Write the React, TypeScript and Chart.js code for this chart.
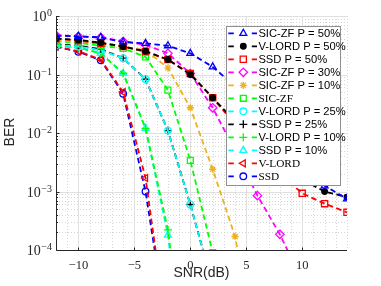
import React, { useEffect, useRef } from 'react';
import { Chart, registerables } from 'chart.js';
import { drawPoint } from 'chart.js/helpers';

Chart.register(...registerables);

// ---------- data ----------
const snr = [-12, -10, -8, -6, -4, -2, 0, 2, 4, 6, 8, 10, 12, 14];

const sicZf50 = [0.46, 0.45, 0.43, 0.36, 0.34, 0.31, 0.23, 0.135, 0.063, 0.022, 0.008, 0.0028, 0.00125, 0.00075];
const vLord50 = [0.41, 0.39, 0.35, 0.3, 0.25, 0.18, 0.1, 0.04, 0.016, 0.0063, 0.0028, 0.0016, 0.001, 0.0008];
const ssd50 = [0.41, 0.38, 0.34, 0.3, 0.245, 0.18, 0.104, 0.04, 0.014, 0.005, 0.002, 0.00093, 0.00062, 0.00044];
const sicZf30 = [0.47, 0.45, 0.43, 0.37, 0.32, 0.23, 0.104, 0.027, 0.005, 0.00085, 0.000185, 0.00003, 0.000005, 0.000001];
const sicZf10 = [0.38, 0.37, 0.34, 0.3, 0.26, 0.13, 0.027, 0.0024, 0.00017, 0.0000016, null, null, null, null];
const sicZf = [0.37, 0.35, 0.31, 0.28, 0.2, 0.054, 0.0034, 0.00009, null, null, null, null, null, null];
const vLord25 = [0.32, 0.3, 0.26, 0.19, 0.083, 0.011, 0.0006, 0.000025, null, null, null, null, null, null];
const ssd25 = [0.33, 0.31, 0.27, 0.19, 0.083, 0.011, 0.0006, 0.000025, null, null, null, null, null, null];
const vLord10 = [0.31, 0.29, 0.23, 0.105, 0.012, 0.00022, 0.0000002, null, null, null, null, null, null, null];
const ssd10 = [0.31, 0.29, 0.23, 0.105, 0.012, 0.00018, 0.00000015, null, null, null, null, null, null, null];
const vLord = [0.3, 0.25, 0.18, 0.05, 0.0017, 0.000003, null, null, null, null, null, null, null, null];
const ssd = [0.3, 0.245, 0.175, 0.047, 0.001, 0.0000035, null, null, null, null, null, null, null, null];

const seriesLabels = [
  'SIC-ZF P = 50%', 'V-LORD P = 50%', 'SSD P = 50%', 'SIC-ZF P = 30%', 'SIC-ZF P = 10%', 'SIC-ZF',
  'V-LORD P = 25%', 'SSD P = 25%', 'V-LORD P = 10%', 'SSD P = 10%', 'V-LORD', 'SSD',
];
const seriesValues = [sicZf50, vLord50, ssd50, sicZf30, sicZf10, sicZf, vLord25, ssd25, vLord10, ssd10, vLord, ssd];

const xTicks = [-10, -5, 0, 5, 10];
const xTickLabels = ['\u221210', '\u22125', '0', '5', '10'];
const yTicks = [1e-4, 1e-3, 1e-2, 1e-1, 1];
const yTickExponents = ['\u22124', '\u22123', '\u22122', '\u22121', '0'];
const xTitle = 'SNR(dB)';
const yTitle = 'BER';

// ---------- styles ----------
const seriesStyles = [
  { color: '#0000ff', pointStyle: 'triangle', radius: 4, rotation: 0, filled: false, serif: false },
  { color: '#000000', pointStyle: 'circle', radius: 2.8, rotation: 0, filled: true, serif: false },
  { color: '#ff0000', pointStyle: 'rect', radius: 4.4, rotation: 0, filled: false, serif: false },
  { color: '#ff00ff', pointStyle: 'rectRot', radius: 4.2, rotation: 0, filled: false, serif: false },
  { color: '#edb120', pointStyle: 'star', radius: 3.6, rotation: 0, filled: false, serif: false },
  { color: '#00ff00', pointStyle: 'rect', radius: 4.2, rotation: 0, filled: false, serif: true },
  { color: '#00ffff', pointStyle: 'circle', radius: 3.3, rotation: 0, filled: false, serif: false },
  { color: '#000000', pointStyle: 'cross', radius: 4, rotation: 0, filled: false, serif: false },
  { color: '#00ff00', pointStyle: 'cross', radius: 4, rotation: 0, filled: false, serif: false },
  { color: '#00ffff', pointStyle: 'triangle', radius: 4, rotation: 0, filled: false, serif: false },
  { color: '#ff0000', pointStyle: 'triangle', radius: 4, rotation: -90, filled: false, serif: true },
  { color: '#0000ff', pointStyle: 'circle', radius: 3.3, rotation: 0, filled: false, serif: true },
];

const SERIF = '"Liberation Serif", "DejaVu Serif", serif';
const SANS = '"Liberation Sans", Arial, sans-serif';
const AXIS_COLOR = '#262626';
const DASH = [5.5, 3.5];

const decorPlugin = {
  id: 'decor',
  beforeDatasetsDraw(chart: any) {
    const { ctx, chartArea: a, scales } = chart;
    const x = scales.x;
    const y = scales.y;
    ctx.save();
    // minor grid
    ctx.lineWidth = 1;
    ctx.strokeStyle = '#d6d6d6';
    ctx.setLineDash([1, 2]);
    for (let k = -4; k <= -1; k++) {
      for (let m = 2; m <= 9; m++) {
        const py = Math.round(y.getPixelForValue(m * Math.pow(10, k))) + 0.5;
        ctx.beginPath();
        ctx.moveTo(a.left, py);
        ctx.lineTo(a.right, py);
        ctx.stroke();
      }
    }
    for (let v = Math.ceil(x.min); v <= x.max; v++) {
      if (v % 5 === 0) continue;
      const px = Math.round(x.getPixelForValue(v)) + 0.5;
      ctx.beginPath();
      ctx.moveTo(px, a.top);
      ctx.lineTo(px, a.bottom);
      ctx.stroke();
    }
    // major grid
    ctx.setLineDash([]);
    ctx.strokeStyle = '#e0e0e0';
    yTicks.forEach((t) => {
      const py = Math.round(y.getPixelForValue(t)) + 0.5;
      ctx.beginPath();
      ctx.moveTo(a.left, py);
      ctx.lineTo(a.right, py);
      ctx.stroke();
    });
    xTicks.forEach((t) => {
      const px = Math.round(x.getPixelForValue(t)) + 0.5;
      ctx.beginPath();
      ctx.moveTo(px, a.top);
      ctx.lineTo(px, a.bottom);
      ctx.stroke();
    });
    ctx.restore();
  },
  afterDatasetsDraw(chart: any) {
    const { ctx, chartArea: a, scales } = chart;
    const x = scales.x;
    const y = scales.y;
    ctx.save();
    ctx.setLineDash([]);
    // axes
    ctx.strokeStyle = AXIS_COLOR;
    ctx.lineWidth = 1;
    const L = Math.round(a.left) + 0.5;
    const B = Math.round(a.bottom) + 0.5;
    ctx.beginPath();
    ctx.moveTo(L, a.top);
    ctx.lineTo(L, B);
    ctx.lineTo(a.right, B);
    ctx.stroke();
    // ticks
    ctx.beginPath();
    xTicks.forEach((t) => {
      const px = Math.round(x.getPixelForValue(t)) + 0.5;
      ctx.moveTo(px, B);
      ctx.lineTo(px, B - 3);
    });
    yTicks.forEach((t) => {
      const py = Math.round(y.getPixelForValue(t)) + 0.5;
      ctx.moveTo(L, py);
      ctx.lineTo(L + 3, py);
    });
    for (let k = -4; k <= -1; k++) {
      for (let m = 2; m <= 9; m++) {
        const py = Math.round(y.getPixelForValue(m * Math.pow(10, k))) + 0.5;
        ctx.moveTo(L, py);
        ctx.lineTo(L + 1.5, py);
      }
    }
    ctx.stroke();
    // x tick labels
    ctx.fillStyle = AXIS_COLOR;
    ctx.font = `12.5px ${SERIF}`;
    ctx.textAlign = 'center';
    ctx.textBaseline = 'alphabetic';
    xTicks.forEach((t, i) => {
      ctx.fillText(xTickLabels[i], x.getPixelForValue(t), a.bottom + 18.6);
    });
    // y tick labels
    yTicks.forEach((t, i) => {
      const py = y.getPixelForValue(t);
      const right = a.left - 4;
      ctx.font = `10px ${SERIF}`;
      ctx.textAlign = 'right';
      const ew = ctx.measureText(yTickExponents[i]).width;
      ctx.fillText(yTickExponents[i], right, py + 0.3);
      ctx.font = `14px ${SERIF}`;
      ctx.fillText('10', right - ew - 0.5, py + 5);
    });
    // titles
    ctx.font = `14px ${SANS}`;
    ctx.textAlign = 'center';
    ctx.fillText(xTitle, (a.left + a.right) / 2, 276.5);
    ctx.save();
    ctx.translate(13.5, (a.top + a.bottom) / 2 - 1);
    ctx.rotate(-Math.PI / 2);
    ctx.textBaseline = 'alphabetic';
    ctx.fillText(yTitle, 0, 0);
    ctx.restore();

    // legend
    const lx = 226.5, ly = 26.5, lw = 114, lh = 159;
    ctx.fillStyle = '#ffffff';
    ctx.fillRect(lx, ly, lw, lh);
    ctx.strokeStyle = '#8f8f8f';
    ctx.lineWidth = 1;
    ctx.strokeRect(lx, ly, lw, lh);
    seriesLabels.forEach((label, i) => {
      const st = seriesStyles[i];
      const cy = 33.3 + 13 * i;
      ctx.strokeStyle = st.color;
      ctx.lineWidth = 1.8;
      ctx.beginPath();
      ctx.moveTo(228.3, cy);
      ctx.lineTo(233.8, cy);
      ctx.moveTo(251.8, cy);
      ctx.lineTo(257, cy);
      ctx.stroke();
      ctx.lineWidth = 1.3;
      ctx.fillStyle = st.filled ? st.color : 'rgba(0,0,0,0)';
      drawPoint(ctx, { pointStyle: st.pointStyle, rotation: st.rotation, radius: st.radius, borderWidth: 1.3 } as any, 243.3, cy);
      ctx.fillStyle = '#000000';
      ctx.textAlign = 'left';
      ctx.textBaseline = 'middle';
      ctx.font = st.serif ? `11.3px ${SERIF}` : `11.2px ${SANS}`;
      ctx.fillText(label, 258.4, cy + 0.5);
    });
    ctx.restore();
  },
};

export default function App() {
  const canvasRef = useRef<HTMLCanvasElement | null>(null);

  useEffect(() => {
    const canvas = canvasRef.current;
    if (!canvas) return;
    const datasets = seriesValues.map((vals, i) => {
      const st = seriesStyles[i];
      return {
        label: seriesLabels[i],
        data: snr.map((s, j) => ({ x: s, y: vals[j] })),
        borderColor: st.color,
        backgroundColor: 'rgba(0,0,0,0)',
        borderWidth: 1.8,
        borderDash: DASH,
        pointStyle: st.pointStyle,
        pointRadius: st.radius,
        pointRotation: st.rotation,
        pointBorderWidth: 1.3,
        pointBorderColor: st.color,
        pointBackgroundColor: st.filled ? st.color : 'rgba(0,0,0,0)',
        fill: false,
        tension: 0,
        spanGaps: false,
      };
    });
    const chart = new Chart(canvas, {
      type: 'line',
      data: { datasets } as any,
      options: {
        responsive: false,
        animation: false,
        devicePixelRatio: 1,
        layout: { padding: { left: 56, top: 16, right: 34, bottom: 36 } },
        plugins: { legend: { display: false }, tooltip: { enabled: false } },
        scales: {
          x: { type: 'linear', min: -12, max: 14, display: false },
          y: { type: 'logarithmic', min: 1e-4, max: 1, display: false },
        },
      } as any,
      plugins: [decorPlugin],
    });
    return () => chart.destroy();
  }, []);

  return (
    <div style={{ position: 'absolute', left: 0, top: 0, width: 381, height: 286, background: '#ffffff' }}>
      <canvas ref={canvasRef} width={381} height={286} style={{ width: 381, height: 286, display: 'block' }} />
    </div>
  );
}
